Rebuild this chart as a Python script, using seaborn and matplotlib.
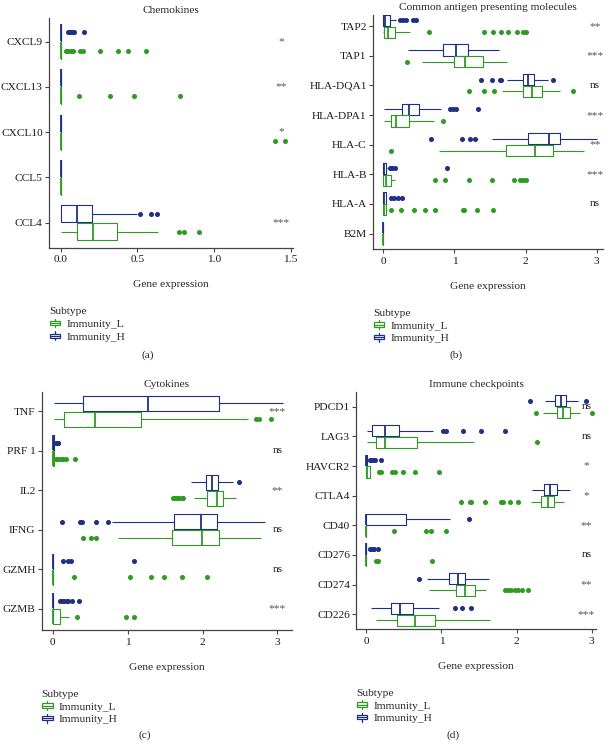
import matplotlib
matplotlib.use("Agg")
import matplotlib.pyplot as plt
from matplotlib.legend_handler import HandlerBase
from matplotlib.patches import Rectangle, Patch
from matplotlib.lines import Line2D
import seaborn as sns
import pandas as pd

# box summaries:
# (whisker low, q1, median, q3, whisker high, outliers)
Z = (0, 0, 0, 0, 0)

chemo_genes = ["CXCL9", "CXCL13", "CXCL10", "CCL5", "CCL4"]
chemo_L = [Z + ([0.033, 0.05, 0.067, 0.082, 0.126, 0.143, 0.256, 0.372, 0.441, 0.556],),
           Z + ([0.121, 0.322, 0.478, 0.778],),
           Z + ([1.40, 1.46],),
           Z + ([],),
           (0, 0.104, 0.209, 0.365, 0.637, [0.774, 0.806, 0.904])]
chemo_H = [Z + ([0.05, 0.06, 0.07, 0.08, 0.09, 0.15],),
           Z + ([],),
           Z + ([],),
           Z + ([],),
           (0, 0, 0.104, 0.202, 0.496, [0.52, 0.59, 0.626])]
chemo_sig = ["*", "**", "*", "", "***"]

apm_genes = ["TAP2", "TAP1", "HLA-DQA1", "HLA-DPA1", "HLA-C", "HLA-B", "HLA-A", "B2M"]
apm_L = [(0, 0.005, 0.066, 0.16, 0.38, [0.645, 1.418, 1.545, 1.658, 1.756, 1.887, 1.968, 2.014]),
         (0.549, 0.991, 1.146, 1.404, 1.742, [0.339]),
         (1.676, 1.968, 2.085, 2.225, 2.484, [1.207, 1.414, 1.559, 2.672]),
         (0.005, 0.113, 0.174, 0.362, 0.714, [0.841]),
         (0.785, 1.724, 2.132, 2.39, 2.822, [0.113]),
         (0, 0, 0.033, 0.113, 0.16, [0.724, 0.864, 1.207, 1.531, 1.836, 1.92, 1.968, 2.005]),
         (0, 0, 0.008, 0.042, 0.05, [0.11, 0.249, 0.427, 0.592, 0.732, 1.117, 1.14, 1.319, 1.549]),
         Z + ([],)]
apm_H = [(0, 0, 0.02, 0.089, 0.18, [0.23, 0.277, 0.324, 0.418, 0.465]),
         (0.348, 0.841, 1.02, 1.193, 1.63, []),
         (1.733, 1.96, 2.04, 2.12, 2.31, [1.38, 1.531, 1.639, 1.662, 2.39]),
         (0.005, 0.263, 0.357, 0.498, 0.817, [0.935, 0.981, 1.028, 1.334]),
         (1.535, 2.038, 2.329, 2.484, 3.0, [0.676, 1.113, 1.225, 1.287]),
         (0, 0, 0.01, 0.033, 0.045, [0.09, 0.127, 0.16, 0.897]),
         (0, 0, 0.005, 0.033, 0.04, [0.103, 0.15, 0.207, 0.263]),
         Z + ([],)]
apm_sig = ["**", "***", "ns", "***", "**", "***", "ns", ""]

cyto_genes = ["TNF", "PRF 1", "IL2", "IFNG", "GZMH", "GZMB"]
cyto_L = [(0.022, 0.155, 0.565, 1.175, 2.61, [2.72, 2.76, 2.92]),
          (0, 0, 0, 0.015, 0.015, [0.044, 0.075, 0.106, 0.142, 0.177, 0.297]),
          (1.886, 2.064, 2.198, 2.27, 2.447, [1.60, 1.63, 1.66, 1.69, 1.72, 1.74]),
          (0.876, 1.597, 1.997, 2.224, 2.781, [0.409, 0.507, 0.574]),
          Z + ([0.285, 1.032, 1.308, 1.486, 1.722, 2.065],),
          (0, 0, 0.01, 0.098, 0.218, [0.329, 0.979, 1.085])]
cyto_H = [(0.022, 0.409, 1.268, 2.22, 3.08, []),
          (0, 0, 0, 0.015, 0.015, [0.045, 0.055, 0.065, 0.075]),
          (1.842, 2.05, 2.131, 2.21, 2.40, [2.49]),
          (0.79, 1.624, 1.98, 2.19, 2.834, [0.12, 0.364, 0.386, 0.574, 0.743]),
          Z + ([0.142, 0.2, 0.24, 1.09],),
          Z + ([0.097, 0.12, 0.151, 0.187, 0.209, 0.262, 0.351],)]
cyto_sig = ["***", "ns", "**", "ns", "ns", "***"]

icp_genes = ["PDCD1", "LAG3", "HAVCR2", "CTLA4", "CD40", "CD276", "CD274", "CD226"]
icp_L = [(2.353, 2.539, 2.619, 2.716, 2.841, [2.256, 3.0]),
         (0.009, 0.125, 0.245, 0.679, 1.434, [2.277]),
         (0, 0, 0.01, 0.053, 0.053, [0.169, 0.2, 0.346, 0.377, 0.489, 0.644, 0.968]),
         (2.189, 2.322, 2.419, 2.495, 2.628, [1.257, 1.377, 1.399, 1.585, 1.798, 1.82, 1.917, 2.02]),
         Z + ([0.365, 0.791, 0.857, 1.057],),
         Z + ([0.124, 0.155, 0.879],),
         (0.835, 1.19, 1.31, 1.447, 1.59, [1.843, 1.887, 1.931, 1.976, 2.02, 2.065, 2.153]),
         (0.125, 0.413, 0.653, 0.919, 1.651, [])]
icp_H = [(2.384, 2.517, 2.588, 2.663, 2.819, [2.176, 2.921]),
         (0.009, 0.076, 0.245, 0.435, 0.888, [1.021, 1.057, 1.288, 1.531, 1.843]),
         (0, 0, 0, 0.013, 0.013, [0.045, 0.067, 0.089, 0.111, 0.19]),
         (2.21, 2.366, 2.442, 2.539, 2.708, []),
         (0, 0, 0, 0.533, 1.11, [1.363]),
         Z + ([0.045, 0.076, 0.102, 0.155],),
         (0.812, 1.101, 1.221, 1.318, 1.634, [0.702]),
         (0.067, 0.333, 0.444, 0.626, 0.968, [1.177, 1.274, 1.39])]
icp_sig = ["ns", "ns", "*", "*", "**", "ns", "**", "***"]

COLORS = {"Immunity_L": "#2f9b22", "Immunity_H": "#1f2f85"}
FONT = ["Liberation Serif", "DejaVu Serif"]
FS = 8.2


def expand(lo, q1, med, q3, hi, out):
    # a sample whose quartiles / whiskers / outliers give exactly this box
    low = sorted(v for v in out if v < q1)
    high = sorted(v for v in out if v > q3)
    m = max(len(low), len(high)) + 1
    return (low + [lo] + [q1] * (m - len(low)) + [med] * m + [q3] * m
            + [q3] * (m - len(high) - 1) + [hi] + high)


def long_frame(genes, stats_L, stats_H):
    rows = []
    for name, stats in (("Immunity_L", stats_L), ("Immunity_H", stats_H)):
        for g, s in zip(genes, stats):
            rows += [(g, name, v) for v in expand(*s)]
    return pd.DataFrame(rows, columns=["gene", "Subtype", "value"])


class BoxKey(HandlerBase):
    def create_artists(self, legend, orig_handle, xdescent, ydescent, width, height, fontsize, trans):
        c = orig_handle.get_edgecolor()
        cx = width / 2 - xdescent
        y0, y1 = -ydescent, height - ydescent
        box = Rectangle((cx - width * 0.45, y0 + height * 0.25), width * 0.9, height * 0.5,
                        facecolor="white", edgecolor=c, lw=0.9, transform=trans)
        wl = Line2D([cx, cx], [y0, y1], color=c, lw=0.9, transform=trans)
        md = Line2D([cx - width * 0.45, cx + width * 0.45], [(y0 + y1) / 2] * 2, color=c, lw=0.9, transform=trans)
        return [wl, box, md]


sns.set_theme(style="ticks")
plt.rcParams["font.family"] = FONT
plt.rcParams["axes.edgecolor"] = "#444444"
plt.rcParams["xtick.color"] = "#444444"
plt.rcParams["ytick.color"] = "#444444"
plt.rcParams["xtick.labelcolor"] = "#1a1a1a"
plt.rcParams["ytick.labelcolor"] = "#1a1a1a"

W, H = 606, 743
fig = plt.figure(figsize=(W / 100, H / 100), dpi=100)


def px_axes(x0, y0, x1, y1):
    return fig.add_axes([x0 / W, 1 - y1 / H, (x1 - x0) / W, (y1 - y0) / H])


panels = [
    ("Chemokines", chemo_genes, chemo_L, chemo_H, chemo_sig, (49, 18, 293, 247.5),
     (-0.076, 1.515), [0, 0.5, 1.0, 1.5], ["0.0", "0.5", "1.0", "1.5"], 1.44, (4.55, -0.52), "(a)", 148, 355),
    ("Common antigen presenting molecules", apm_genes, apm_L, apm_H, apm_sig, (373, 15, 603, 249),
     (-0.145, 3.09), [0, 1, 2, 3], ["0", "1", "2", "3"], 2.98, (7.52, -0.38), "(b)", 456, 355),
    ("Cytokines", cyto_genes, cyto_L, cyto_H, cyto_sig, (41.7, 392, 291.7, 630),
     (-0.147, 3.19), [0, 1, 2, 3], ["0", "1", "2", "3"], 3.0, (5.54, -0.49), "(c)", 145, 735),
    ("Immune checkpoints", icp_genes, icp_L, icp_H, icp_sig, (356.3, 392, 596.3, 629),
     (-0.133, 3.06), [0, 1, 2, 3], ["0", "1", "2", "3"], 2.93, (7.5, -0.5), "(d)", 453, 735),
]

for title, genes, sL, sH, sig, box, xlim, xt, xtl, sx, ylim, tag, tagx, tagy in panels:
    ax = px_axes(*box)
    df = long_frame(genes, sL, sH)
    sns.boxplot(data=df, x="value", y="gene", hue="Subtype", order=genes,
                hue_order=["Immunity_H", "Immunity_L"], palette=COLORS, fill=False,
                width=0.8, gap=0.06, linewidth=0.8, showcaps=False,
                flierprops=dict(marker="o", markersize=2.6),
                medianprops=dict(linewidth=1.3), legend=False, ax=ax)
    for ln in ax.lines:
        if ln.get_marker() == "o":
            ln.set_markerfacecolor(ln.get_markeredgecolor())
    ax.set_xlim(*xlim)
    ax.set_ylim(*ylim)
    ax.set_xticks(xt, xtl)
    ax.tick_params(labelsize=FS, length=3, width=0.8, pad=1.5)
    ax.tick_params(axis="x", pad=2.5)
    sns.despine(ax=ax)
    for sp in ("left", "bottom"):
        ax.spines[sp].set_linewidth(0.9)
    ax.set_ylabel("")
    ax.set_xlabel("Gene expression", fontsize=FS, labelpad=11.5)
    ax.set_title(title, fontsize=FS, pad=3.5)
    for i, s in enumerate(sig):
        ax.text(sx, i, s, ha="center", va="center", fontsize=FS,
                color="#555555" if "*" in s else "#1a1a1a")
    handles = [Patch(edgecolor=COLORS["Immunity_L"], facecolor="white", label="Immunity_L"),
               Patch(edgecolor=COLORS["Immunity_H"], facecolor="white", label="Immunity_H")]
    ax.legend(handles=handles, title="Subtype", loc="upper left",
              bbox_to_anchor=(box[0] / W, 1 - (box[3] + 60) / H), bbox_transform=fig.transFigure,
              frameon=False, fontsize=FS, title_fontsize=FS, alignment="left",
              handler_map={Patch: BoxKey()}, handlelength=1.0, handleheight=0.8,
              handletextpad=0.5, labelspacing=0.2, borderpad=0, borderaxespad=0)
    fig.text(tagx / W, 1 - tagy / H, tag, ha="center", va="center", fontsize=FS,
             family=FONT)

fig.savefig("out.png", dpi=100)
